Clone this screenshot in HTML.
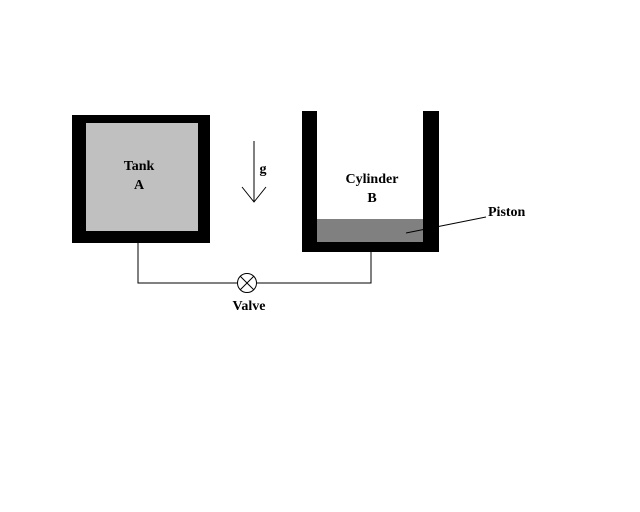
<!DOCTYPE html>
<html><head><style>body{margin:0;background:#fff}svg{display:block}text{font-family:"Liberation Serif",serif;font-weight:bold;font-size:14px;fill:#000}</style></head>
<body><svg width="640" height="512" xmlns="http://www.w3.org/2000/svg">
<rect width="640" height="512" fill="#fff"/>
<rect x="72" y="115" width="138" height="128" fill="#000"/>
<rect x="86" y="123" width="112" height="108" fill="#c0c0c0"/>
<rect x="302" y="111" width="137" height="141" fill="#000"/>
<rect x="317" y="111" width="106" height="131" fill="#fff"/>
<rect x="317" y="219" width="106" height="23" fill="#808080"/>
<polyline points="138,243 138,283 237,283" fill="none" stroke="#000" stroke-width="1"/>
<polyline points="257,283 371,283 371,252" fill="none" stroke="#000" stroke-width="1"/>
<circle cx="247" cy="283" r="9.5" fill="#fff" stroke="#000"/>
<line x1="240" y1="276" x2="254" y2="290" stroke="#000"/>
<line x1="254" y1="276" x2="240" y2="290" stroke="#000"/>
<line x1="254" y1="141" x2="254" y2="202" stroke="#000"/>
<polyline points="242,187 254,202 266,187" fill="none" stroke="#000"/>
<line x1="406" y1="233" x2="486" y2="217" stroke="#000"/>
<text x="139" y="170" text-anchor="middle">Tank</text>
<text x="139" y="189" text-anchor="middle">A</text>
<text x="263" y="173" text-anchor="middle">g</text>
<text x="372" y="183" text-anchor="middle">Cylinder</text>
<text x="372" y="202" text-anchor="middle">B</text>
<text x="488" y="216">Piston</text>
<text x="249" y="310" text-anchor="middle">Valve</text>
</svg></body></html>
